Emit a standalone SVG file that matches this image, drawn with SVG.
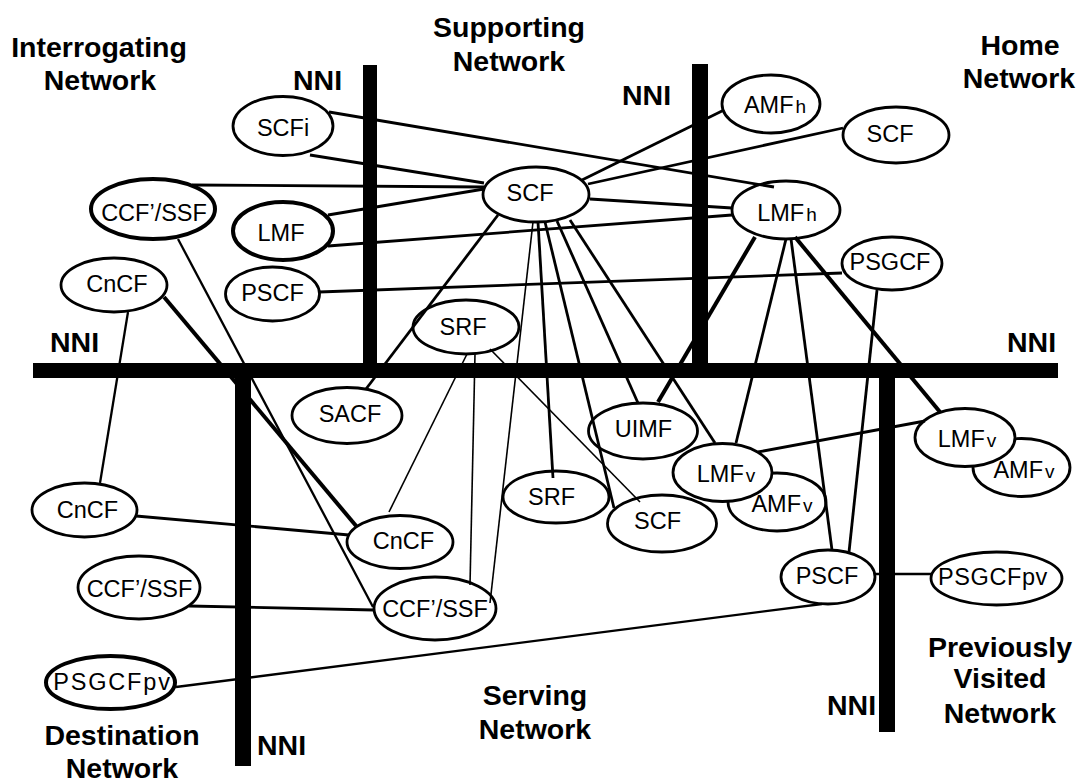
<svg xmlns="http://www.w3.org/2000/svg" width="1080" height="783" viewBox="0 0 1080 783">
<style>
.bar{fill:#000}
.node ellipse{fill:#fff;stroke:#000;stroke-width:2.8}
.node.bold ellipse{stroke-width:4}
.node text{font-family:"Liberation Sans",Arial,sans-serif;font-size:23.5px;text-anchor:middle;fill:#000}
.sub{font-size:19px}
.title{font-family:"Liberation Sans",Arial,sans-serif;font-size:28.5px;font-weight:bold;text-anchor:middle;fill:#000}
.nni{font-family:"Liberation Sans",Arial,sans-serif;font-size:28.5px;font-weight:bold;fill:#000}
#connectors line{stroke:#000;stroke-width:2.8;stroke-linecap:butt}
#connectors line.thick{stroke-width:4}
#connectors line.mid{stroke-width:2.3}
#connectors line.thin{stroke-width:1.6}
</style>
<rect width="1080" height="783" fill="#fff"/>

<g id="boundaries">
<rect class="bar" x="363" y="65" width="14" height="313"/>
<rect class="bar" x="692" y="64" width="16" height="314"/>
<rect class="bar" x="33" y="363" width="1025" height="15"/>
<rect class="bar" x="235" y="363" width="16" height="403"/>
<rect class="bar" x="879" y="363" width="16" height="369"/>
</g>

<g id="labels">
<text class="title" x="99" y="57">Interrogating</text>
<text class="title" x="100" y="90">Network</text>
<text class="title" x="509" y="37">Supporting</text>
<text class="title" x="509" y="71">Network</text>
<text class="title" x="1020" y="55">Home</text>
<text class="title" x="1019" y="88">Network</text>
<text class="title" x="122" y="745">Destination</text>
<text class="title" x="122" y="778">Network</text>
<text class="title" x="535" y="705">Serving</text>
<text class="title" x="535" y="739">Network</text>
<text class="title" x="1000" y="657">Previously</text>
<text class="title" x="1000" y="688">Visited</text>
<text class="title" x="1000" y="723">Network</text>
<text class="nni" x="293" y="90">NNI</text>
<text class="nni" x="622" y="105">NNI</text>
<text class="nni" x="50" y="352">NNI</text>
<text class="nni" x="1007" y="352">NNI</text>
<text class="nni" x="257" y="755">NNI</text>
<text class="nni" x="827" y="715">NNI</text>
</g>

<g id="n-scfi" class="node"><ellipse cx="283" cy="126" rx="50" ry="29.5"/><text x="283" y="136">SCFi</text></g>
<g id="n-ccfssf-i" class="node bold"><ellipse cx="153" cy="209" rx="62" ry="30"/><text x="154" y="221">CCF’/SSF</text></g>
<g id="n-lmf" class="node bold"><ellipse cx="283" cy="231" rx="50" ry="29"/><text x="281" y="241">LMF</text></g>
<g id="n-scf-s" class="node"><ellipse cx="536" cy="194.5" rx="53" ry="27.5"/><text x="530" y="201">SCF</text></g>
<g id="n-amfh" class="node"><ellipse cx="771" cy="104" rx="49" ry="29"/><text x="775" y="113">AMF<tspan class="sub" dx="2">h</tspan></text></g>
<g id="n-scf-h" class="node"><ellipse cx="896" cy="135" rx="53" ry="28"/><text x="890" y="142">SCF</text></g>
<g id="n-lmfh" class="node"><ellipse cx="786" cy="210" rx="54" ry="29"/><text x="787" y="221">LMF<tspan class="sub" dx="2">h</tspan></text></g>
<g id="n-psgcf" class="node"><ellipse cx="892" cy="263.5" rx="50" ry="26.5"/><text x="890" y="270">PSGCF</text></g>
<g id="n-cncf-i" class="node"><ellipse cx="114" cy="285" rx="53" ry="27"/><text x="117" y="292">CnCF</text></g>
<g id="n-pscf-i" class="node"><ellipse cx="272.5" cy="294" rx="47" ry="27"/><text x="272.5" y="301">PSCF</text></g>
<g id="n-srf-s" class="node"><ellipse cx="466" cy="327" rx="53" ry="27"/><text x="463" y="335">SRF</text></g>
<g id="n-sacf" class="node"><ellipse cx="347" cy="415.5" rx="55" ry="28"/><text x="350" y="422">SACF</text></g>
<g id="n-uimf" class="node"><ellipse cx="643" cy="431" rx="54.5" ry="28"/><text x="643.5" y="437">UIMF</text></g>
<g id="n-srf-v" class="node"><ellipse cx="556" cy="497" rx="53" ry="26"/><text x="551.5" y="505">SRF</text></g>
<g id="n-scf-v" class="node"><ellipse cx="662" cy="523.5" rx="54.5" ry="28.5"/><text x="657.5" y="529">SCF</text></g>
<g id="n-amfv-v" class="node"><ellipse cx="777" cy="502" rx="49" ry="29"/><text x="782" y="512">AMF<tspan class="sub" dx="2">v</tspan></text></g>
<g id="n-lmfv-v" class="node"><ellipse cx="722.5" cy="472.5" rx="49.5" ry="29"/><text x="726" y="482">LMF<tspan class="sub" dx="2">v</tspan></text></g>
<g id="n-amfv-pv" class="node"><ellipse cx="1021.5" cy="467.5" rx="48.5" ry="29"/><text x="1024" y="478">AMF<tspan class="sub" dx="2">v</tspan></text></g>
<g id="n-lmfv-pv" class="node"><ellipse cx="965" cy="437.5" rx="50" ry="29"/><text x="967" y="447">LMF<tspan class="sub" dx="2">v</tspan></text></g>
<g id="n-cncf-d" class="node"><ellipse cx="84.5" cy="510" rx="52.5" ry="27"/><text x="87.5" y="518">CnCF</text></g>
<g id="n-cncf-v" class="node"><ellipse cx="400" cy="542" rx="53" ry="26.5"/><text x="403.5" y="549">CnCF</text></g>
<g id="n-ccfssf-v" class="node"><ellipse cx="435" cy="608.5" rx="61" ry="31.5"/><text x="435" y="617">CCF’/SSF</text></g>
<g id="n-ccfssf-d" class="node"><ellipse cx="139" cy="587.5" rx="61" ry="31.5"/><text x="139.5" y="597">CCF’/SSF</text></g>
<g id="n-psgcfpv-d" class="node bold"><ellipse cx="110.5" cy="682.5" rx="64.5" ry="26.5"/><text x="112.5" y="690" letter-spacing="1.8">PSGCFpv</text></g>
<g id="n-pscf-v" class="node"><ellipse cx="828" cy="577" rx="47" ry="27"/><text x="827" y="584">PSCF</text></g>
<g id="n-psgcfpv-pv" class="node"><ellipse cx="996.5" cy="578.5" rx="65.5" ry="26.5"/><text x="993" y="585" letter-spacing="0.6">PSGCFpv</text></g>

<g id="connectors">
<line x1="329" y1="112" x2="774" y2="187"/>
<line x1="310" y1="155" x2="484" y2="183"/>
<line x1="192" y1="185" x2="484" y2="187"/>
<line x1="328" y1="215" x2="484" y2="189"/>
<line x1="328" y1="246" x2="732" y2="215"/>
<line x1="590" y1="199" x2="732" y2="208"/>
<line x1="582" y1="180" x2="724" y2="110"/>
<line x1="588" y1="184" x2="843" y2="128"/>
<line x1="498" y1="215" x2="366" y2="389"/>
<line x1="538" y1="222" x2="553" y2="478"/>
<line x1="545" y1="222" x2="614" y2="508"/>
<line x1="557" y1="221" x2="638" y2="403"/>
<line x1="570" y1="220" x2="715" y2="443"/>
<line x1="786" y1="239" x2="736" y2="443"/>
<line x1="791" y1="239" x2="832" y2="550"/>
<line x1="319" y1="292" x2="842" y2="273"/>
<line x1="877" y1="290" x2="849" y2="552"/>
<line class="mid" x1="875" y1="574" x2="932" y2="574"/>
<line class="mid" x1="822" y1="604" x2="176" y2="687"/>
<line x1="758" y1="452" x2="925" y2="421"/>
<line x1="189" y1="606" x2="374" y2="610"/>
<line x1="136" y1="516" x2="349" y2="535"/>
<line class="mid" x1="128" y1="312" x2="100" y2="483"/>
<line class="mid" x1="178" y1="239" x2="373" y2="607"/>
<line class="thick" x1="755" y1="237" x2="658" y2="402"/>
<line class="thick" x1="795" y1="237" x2="940" y2="412"/>
<line class="thick" x1="164" y1="297" x2="357" y2="527"/>
<line class="thin" x1="467" y1="354" x2="389" y2="512"/>
<line class="thin" x1="475" y1="354" x2="470" y2="585"/>
<line class="thin" x1="490" y1="349" x2="640" y2="502"/>
<line class="thin" x1="533" y1="222" x2="490" y2="603"/>
</g>
</svg>
